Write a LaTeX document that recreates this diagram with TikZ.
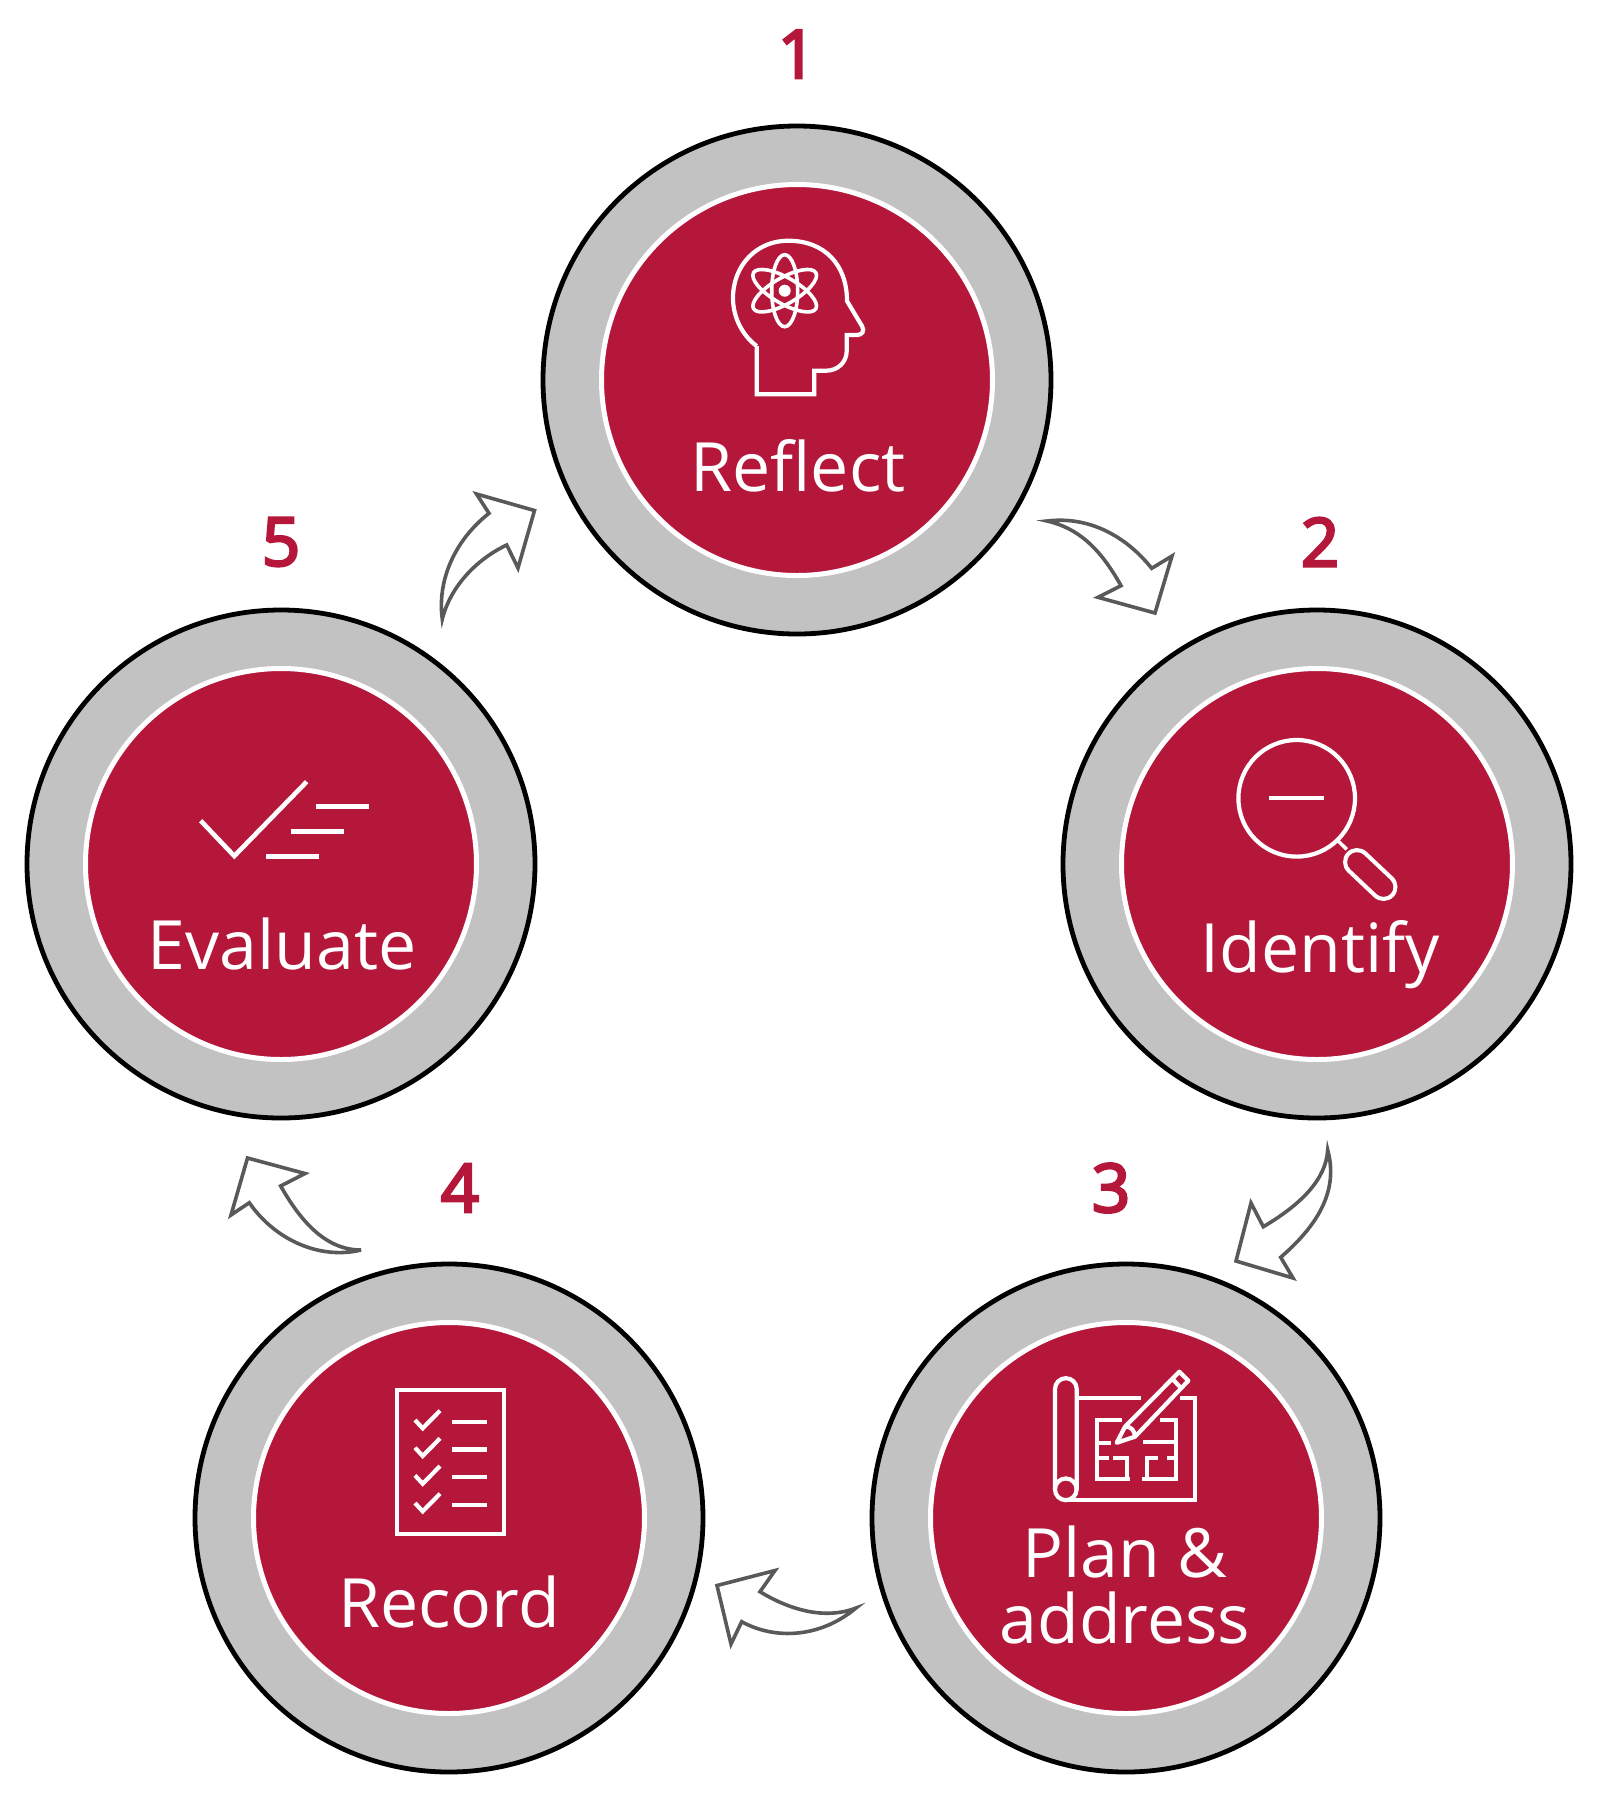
\documentclass[tikz,border=0pt]{standalone}
\usepackage{fontspec}
\setmainfont{Open Sans}
\newfontfamily\numfont[FakeBold=4]{Open Sans}
\usepackage{xcolor}
\usetikzlibrary{positioning,shapes,arrows}
\definecolor{crimson}{HTML}{B5173B}
\definecolor{ringgray}{HTML}{C2C2C2}
\definecolor{arrowgray}{HTML}{595959}

\begin{document}
\begin{tikzpicture}[x=0.5pt,y=-0.5pt,
  ring/.style={circle, draw=black, line width=2.4pt, fill=ringgray, minimum size=254pt, inner sep=0pt},
  core/.style={circle, draw=white, line width=2.5pt, fill=crimson, minimum size=195.5pt, inner sep=0pt},
  steplabel/.style={text=white, align=center, font=\fontsize{34}{33}\selectfont},
  stepnum/.style={text=crimson, font=\fontsize{33.5}{40}\selectfont\numfont},
  bentarrow/.style={draw=arrowgray, line width=1.8pt, fill=white, line join=miter, miter limit=8},
  icon/.style={draw=white, line width=2.1pt}]
\useasboundingbox (0,0) rectangle (1608,1796);

% Rings
\foreach \name/\x/\y in {reflect/797/380, identify/1317/864, plan/1126/1518, record/449/1518, evaluate/281/864} {
  \node[ring] (\name ring) at (\x,\y) {};
  \node[core] (\name core) at (\x,\y) {};
}

% Numbers
\node[stepnum] (num1) at (797,54) {1};
\node[stepnum] (num2) at (1320,542) {2};
\node[stepnum] (num3) at (1111,1188) {3};
\node[stepnum] (num4) at (460,1188) {4};
\node[stepnum] (num5) at (281,542) {5};

% Labels
\node[steplabel] (reflect) at (798,466) {Reflect};
\node[steplabel] (identify) at (1320,955) {Identify};
\node[steplabel] (plan) at (1125,1584.5) {Plan \&\\address};
\node[steplabel] (record) at (449,1602) {Record};
\node[steplabel] (evaluate) at (282,944) {Evaluate};

% Bent arrows
\draw[bentarrow] (1047,521) .. controls (1088,516) and (1125,535) .. (1151.7,568.3)
  -- (1172,556) -- (1155,613) -- (1098,597.3) -- (1121,585.7)
  .. controls (1100,548) and (1078,528) .. (1047,521) -- cycle;
\draw[bentarrow] (1327.7,1150) .. controls (1326,1180) and (1300,1205) .. (1263.3,1226.7)
  -- (1251,1203) -- (1236,1261) -- (1293,1278) -- (1280.7,1257.3)
  .. controls (1312,1230) and (1340,1195) .. (1327.7,1150) -- cycle;
\draw[bentarrow] (856,1608) .. controls (825,1620) and (790,1610) .. (760,1591.7)
  -- (775,1570.5) -- (717,1585.5) -- (731,1644) -- (741.7,1621.7)
  .. controls (775,1640) and (820,1638) .. (856,1608) -- cycle;
\draw[bentarrow] (361,1250) .. controls (325,1250) and (300,1220) .. (280.7,1186)
  -- (305,1173.5) -- (247.5,1158) -- (231,1215) -- (249.3,1202.7)
  .. controls (275,1240) and (320,1260) .. (361,1250) -- cycle;
\draw[bentarrow] (442.3,619) .. controls (437,580) and (455,540) .. (489,513.3)
  -- (476.5,494) -- (534.5,510.5) -- (518,568) -- (506.7,545)
  .. controls (475,560) and (450,588) .. (442.3,619) -- cycle;

% Head icon
\draw[icon] (756.7,346) -- (756.7,394.3) -- (814.3,394.3) -- (814.3,370.7) -- (826,370.7)
  .. controls (838,370.7) and (846.7,362) .. (846.7,351) -- (846.7,335) -- (857,335)
  .. controls (862,335) and (865,331) .. (862,326) -- (847,301)
  .. controls (847,265) and (825,240.7) .. (788,240.7)
  .. controls (757,240.7) and (733,265) .. (733,298)
  .. controls (733,318) and (743,336) .. (756.7,346);
\foreach \a in {0,60,-60} {
  \draw[icon, line width=1.8pt, rotate around={\a:(784.7,290.7)}] (784.7,290.7) circle [x radius=13, y radius=36];
}
\fill[white] (784.7,290.7) circle (6);

% Magnifier icon
\draw[icon] (1296.7,798.3) circle (58.3);
\draw[icon] (1269,798.3) -- (1324.3,798.3);
\draw[icon, line width=1.7pt] (1338.3,841) -- (1346.7,849.3);
\draw[white, line width=14pt, line cap=round] (1357,862) -- (1383.5,887);
\draw[crimson, line width=9.8pt, line cap=round] (1357,862) -- (1383.5,887);

% Blueprint icon
\draw[icon] (1076.7,1489) -- (1076.7,1389) arc (0:-180:10.85) -- (1055,1489);
\draw[icon] (1065.8,1489.3) circle (10.85);
\draw[icon] (1078.3,1398.3) -- (1140.7,1398.3) (1180,1398.3) -- (1195,1398.3) -- (1195,1500) -- (1065,1500);
\draw[icon] (1121.7,1420) -- (1097.3,1420) -- (1097.3,1479.3) -- (1130,1479.3);
\draw[icon] (1097.3,1442.7) -- (1110.7,1442.7) (1097.3,1458.3) -- (1109.3,1458.3);
\draw[icon] (1112.7,1458.3) -- (1127,1458.3) -- (1127,1479.3);
\draw[icon] (1160,1420) -- (1175.7,1420) -- (1175.7,1479.3) -- (1141.7,1479.3);
\draw[icon] (1143.3,1441.7) -- (1175.7,1441.7);
\draw[icon] (1158,1458.3) -- (1147.3,1458.3) -- (1147.3,1479.3) (1166.7,1458.3) -- (1175.7,1458.3);
\draw[icon, line join=round] (1116.7,1442.7) -- (1125,1426.7) -- (1179.3,1371.7) -- (1188.3,1380.7) -- (1135,1436.7) -- cycle;
\draw[icon] (1125,1426.7) .. controls (1131,1426) and (1135,1431) .. (1135,1436.7);
\draw[icon] (1172,1378.5) -- (1181,1388);

% Checklist icon
\draw[icon] (396.7,1390) rectangle (504,1534);
\foreach \y in {0,27.7,55.4,83} {
  \draw[icon] (415,1420+\y) -- (422.7,1428.3+\y) -- (440,1410.7+\y);
  \draw[icon] (452.3,1421.7+\y) -- (487.3,1421.7+\y);
}

% Evaluate icon
\draw[icon, line width=2.3pt] (200.7,820.7) -- (234.3,856) -- (306.7,781.7);
\foreach \x/\y in {316/806.7, 291/831.3, 266/856.7} {
  \draw[icon, line width=2.3pt] (\x,\y) -- (\x+53,\y);
}
\end{tikzpicture}
\end{document}
